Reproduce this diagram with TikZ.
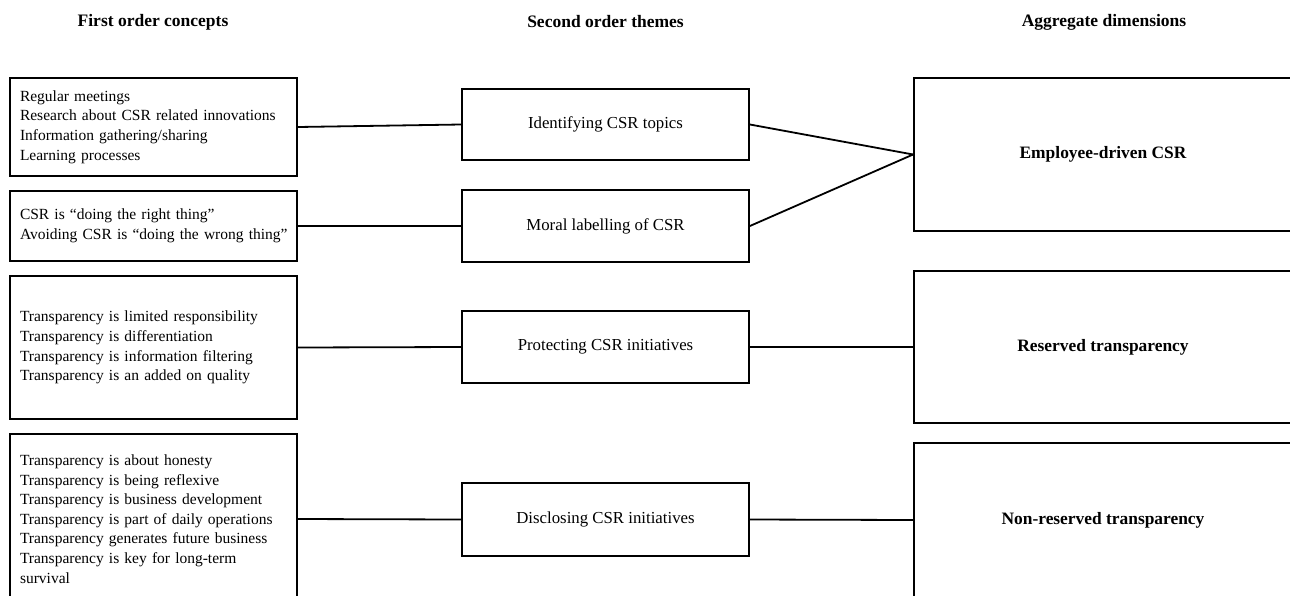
\documentclass[tikz,border=0pt]{standalone}
\usepackage{fontspec}
\setmainfont{Liberation Serif}
\begin{document}
\begin{tikzpicture}[x=1pt,y=-1pt,
  box/.style={draw=black,line width=1.8pt,inner sep=0pt,minimum width=287pt,fill=white},
  lbox/.style={box,inner xsep=10pt,text width=267pt,align=left,font=\fontsize{15.5}{19.6}\selectfont},
  mbox/.style={box,align=center,font=\fontsize{16.8}{19.6}\selectfont},
  rbox/.style={box,minimum width=378pt,align=center,font=\fontsize{17.4}{20}\selectfont\bfseries},
  head/.style={font=\fontsize{17.5}{20}\selectfont\bfseries,inner sep=0pt},
  conn/.style={draw=black,line width=1.8pt}]
\useasboundingbox (0,0) rectangle (1290,595);
\clip (0,0) rectangle (1290,595);
\fill[white] (0,0) rectangle (1290,595);
% headers
\node[head] (h1) at (153,22) {First order concepts};
\node[head] (h2) at (605.5,22) {Second order themes};
\node[head] (h3) at (1104,22) {Aggregate dimensions};
% first order concepts
\node[lbox,minimum height=98pt] (a1) at (153.5,127) {Regular meetings\\Research about CSR related innovations\\Information gathering/sharing\\Learning processes};
\node[lbox,minimum height=70pt] (a2) at (153.5,226) {CSR is “doing the right thing”\\\mbox{Avoiding CSR is “doing the wrong thing”}};
\node[lbox,minimum height=143pt] (a3) at (153.5,347.5) {Transparency is limited responsibility\\Transparency is differentiation\\Transparency is information filtering\\Transparency is an added on quality};
\node[lbox,minimum height=170pt] (a4) at (153.5,519) {Transparency is about honesty\\Transparency is being reflexive\\Transparency is business development\\Transparency is part of daily operations\\Transparency generates future business\\Transparency is key for long-term\\survival};
% second order themes
\node[mbox,minimum height=71pt] (m1) at (605.5,124.5) {Identifying CSR topics};
\node[mbox,minimum height=72pt] (m2) at (605.5,226) {Moral labelling of CSR};
\node[mbox,minimum height=72pt] (m3) at (605.5,347) {Protecting CSR initiatives};
\node[mbox,minimum height=73pt] (m4) at (605.5,519.5) {Disclosing CSR initiatives};
% aggregate dimensions
\node[rbox,minimum height=153pt] (r1) at (1103,154.5) {Employee-driven CSR};
\node[rbox,minimum height=152pt] (r2) at (1103,347) {Reserved transparency};
\node[rbox,minimum height=154pt] (r3) at (1103,520) {Non-reserved transparency};
% connectors
\draw[conn] (a1.east) -- (m1.west);
\draw[conn] (a2.east) -- (m2.west);
\draw[conn] (a3.east) -- (m3.west);
\draw[conn] (a4.east) -- (m4.west);
\draw[conn] (m1.east) -- (r1.west);
\draw[conn] (m2.east) -- (r1.west);
\draw[conn] (m3.east) -- (r2.west);
\draw[conn] (m4.east) -- (r3.west);
\end{tikzpicture}
\end{document}
